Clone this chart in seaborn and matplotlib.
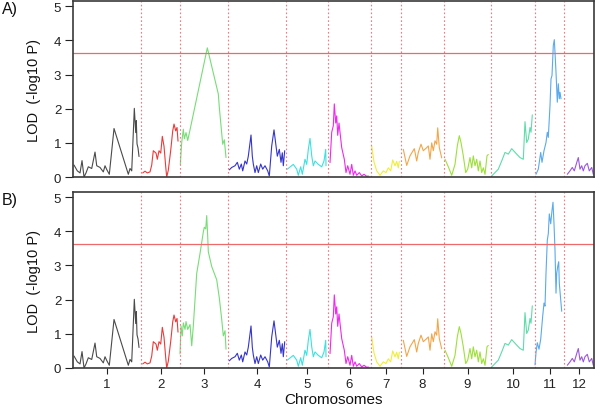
import numpy as np
import pandas as pd
import seaborn as sns
import matplotlib.pyplot as plt

# chromosome lengths (cM) and LOD profiles
chrom_names = ["1", "2", "3", "4", "5", "6", "7", "8", "9", "10", "11", "12"]
chrom_len = [68, 39, 48, 58, 42, 43, 30, 43, 47, 44, 29, 30]
chrom_colors = ["#4a4a4a", "#ec3a3a", "#77dd77", "#3535cc", "#3ee0e0", "#ee2aee",
                "#f0ee3a", "#f2a648", "#9ee03a", "#5edcaa", "#5aaaee", "#9a58dd"]
threshold = 3.64

chr1_pos = [1, 4.3, 7, 9, 11, 13, 15.3, 18.7, 22, 23.7, 27, 30.3, 32, 33.7, 36.3, 41,
            55.3, 57, 58.7, 61.3, 62.7, 63.3, 64, 65, 66]
chr1_lod = [0.35, 0.18, 0.12, 0.48, 0.0, 0.12, 0.3, 0.25, 0.73, 0.33, 0.28, 0.15, 0.33,
            0.22, 0.08, 1.42, 0.08, 0.25, 0.18, 2.01, 1.3, 1.65, 0.97, 0.85, 0.6]

chr2_pos = [1.7, 4, 6.3, 9, 10.7, 12.3, 15, 16.3, 18, 19.7, 21.3, 23, 24.7, 25.7, 27.3,
            29.7, 31.7, 33, 34.7, 36, 37]
chr2_lod = [0.12, 0.17, 0.12, 0.15, 0.35, 0.77, 0.7, 0.52, 0.77, 0.7, 1.19, 0.9, 0.3,
            0.0, 0.2, 0.78, 1.35, 1.55, 1.35, 1.45, 1.05]

chr3_pos = [0.3, 1.7, 3.3, 4.3, 6, 7.7, 10, 27.3, 28.3, 38.3, 39.3, 42.7, 44.3, 46]
chr3_lod = [0.37, 1.01, 1.4, 1.12, 1.3, 1.07, 1.38, 3.78, 3.66, 2.43, 2.04, 0.96, 1.09, 0.57]
chr3_pos_b = [0, 1, 2.3, 3.3, 5, 6, 7.7, 10, 11.7, 13.3, 16.7, 20, 23.3, 24.3, 25.7,
              26.7, 27.7, 28.3, 31.7, 36.7, 39.3, 41.7, 43.3, 45, 46]
chr3_lod_b = [0.41, 1.23, 0.94, 1.32, 1.13, 1.36, 1.13, 1.27, 0.65, 1.23, 2.77, 3.35,
              3.98, 4.12, 4.07, 4.46, 3.84, 3.4, 2.97, 2.58, 2.05, 1.42, 0.94, 1.09, 0.55]

chr4_pos = [1.3, 3.7, 7, 9.3, 11.3, 13.3, 14.7, 17, 18.7, 20.3, 23, 24.3, 25.3, 27, 28.7,
            30.3, 32.7, 34.7, 37, 39.7, 41.3, 43.7, 46, 48, 49.3, 51.3, 53, 54.3, 55.3, 56.7]
chr4_lod = [0.21, 0.28, 0.33, 0.43, 0.23, 0.38, 0.18, 0.47, 0.38, 0.61, 1.23, 0.61, 0.38,
            0.13, 0.33, 0.13, 0.38, 0.23, 0.33, 0.18, 0.03, 0.91, 1.38, 0.91, 0.61, 0.81,
            0.43, 0.71, 0.33, 0.77]

chr5_pos = [1.3, 7.3, 10.7, 12.3, 14.7, 16.3, 19, 20.7, 22.3, 24, 25.7, 27.3, 29, 32.3,
            35.7, 38, 39.7, 40]
chr5_lod = [0.23, 0.37, 0.23, 0.05, 0.3, 0.08, 0.52, 0.37, 0.81, 1.13, 0.62, 0.33, 0.47,
            0.37, 0.3, 0.47, 0.81, 0.33]

chr6_pos = [2, 3.7, 5.3, 6.3, 7.7, 8.7, 9.7, 11, 12, 13.7, 16.3, 18, 19.7, 22, 23.7,
            25.3, 27, 28.7, 31.3, 33.7, 36, 38.7, 40.3]
chr6_lod = [0.42, 1.31, 1.5, 2.14, 1.58, 1.79, 1.22, 1.58, 1.31, 0.86, 0.52, 0.13, 0.33,
            0.08, 0.37, 0.05, 0.18, 0.05, 0.13, 0.03, 0.08, 0.02, 0.03]

chr7_pos = [0.7, 3, 5.7, 9, 12.3, 15, 17.3, 19.7, 21.7, 24, 25.7, 27.3, 28.3]
chr7_lod = [0.91, 0.44, 0.18, 0.05, 0.18, 0.13, 0.27, 0.18, 0.5, 0.33, 0.46, 0.27, 0.46]

chr8_pos = [2.3, 5.7, 9, 13.3, 15.7, 17.3, 20, 22.3, 25.7, 27.3, 29, 30.7, 32.3, 34,
            35.7, 36.7, 38.3, 40.7]
chr8_lod = [0.81, 0.34, 0.62, 0.83, 0.47, 0.72, 0.96, 0.77, 0.86, 0.91, 0.52, 1.0, 0.77,
            1.06, 0.96, 1.44, 0.86, 0.56]

chr9_pos = [1, 4.3, 7.7, 11, 13.3, 15.3, 17, 19.3, 21.7, 23.7, 26, 27.7, 29.3, 31, 32.7,
            34.3, 36, 37.7, 39.3, 41, 43, 44.3]
chr9_lod = [0.52, 0.3, 0.05, 0.37, 0.91, 1.21, 1.01, 0.62, 0.13, 0.23, 0.57, 0.27, 0.62,
            0.33, 0.52, 0.18, 0.47, 0.13, 0.27, 0.08, 0.62, 0.66]

chr10_pos = [0.7, 4, 7.3, 10.7, 14, 17.3, 20.7, 25.7, 29, 32.3, 34, 35.7, 37.3, 39, 40, 41.3]
chr10_lod = [0.03, 0.13, 0.23, 0.47, 0.72, 0.67, 0.83, 0.67, 0.57, 0.52, 1.62, 1.01, 1.11,
             1.45, 1.31, 1.82]

chr11_pos = [1, 3.3, 5.7, 7, 9, 11, 12.3, 13.3, 15, 16, 17, 18.3, 19.3, 20, 21, 22.3,
             23.3, 24.3, 25, 26]
chr11_lod = [0.08, 0.23, 0.72, 0.43, 0.77, 1.01, 1.31, 1.16, 2.09, 2.87, 2.97, 3.85, 4.02,
             3.65, 3.07, 2.19, 2.73, 2.29, 2.48, 2.29]
chr11_pos_b = [0, 1, 2.3, 4, 5.7, 7.7, 9, 10, 11, 12.3, 13.3, 14.3, 15.7, 17, 18, 19, 20,
               21, 21.7, 22.7, 23.7, 24.3, 25.7, 26.7]
chr11_lod_b = [0.09, 0.45, 0.74, 0.55, 0.84, 1.52, 1.9, 1.81, 2.77, 3.74, 3.93, 4.51, 4.22,
               4.61, 4.85, 4.22, 3.45, 2.19, 2.77, 2.97, 3.11, 2.48, 2.0, 1.66]

chr12_pos = [3.3, 6, 8.3, 10.3, 12.7, 14.3, 16, 17.7, 19.3, 21, 23.3, 25.3, 27.7, 29.3]
chr12_lod = [0.08, 0.18, 0.28, 0.18, 0.42, 0.57, 0.23, 0.33, 0.18, 0.33, 0.4, 0.18, 0.28, 0.08]

pos_a = [chr1_pos, chr2_pos, chr3_pos, chr4_pos, chr5_pos, chr6_pos,
         chr7_pos, chr8_pos, chr9_pos, chr10_pos, chr11_pos, chr12_pos]
lod_a = [chr1_lod, chr2_lod, chr3_lod, chr4_lod, chr5_lod, chr6_lod,
         chr7_lod, chr8_lod, chr9_lod, chr10_lod, chr11_lod, chr12_lod]
pos_b = list(pos_a)
lod_b = list(lod_a)
pos_b[2], lod_b[2] = chr3_pos_b, chr3_lod_b
pos_b[10], lod_b[10] = chr11_pos_b, chr11_lod_b

starts = np.concatenate([[0], np.cumsum(chrom_len)[:-1]])
total = sum(chrom_len)
mids = starts + np.array(chrom_len) / 2


def build_frame(pos_list, lod_list):
    rows = []
    for name, st, p, l in zip(chrom_names, starts, pos_list, lod_list):
        for x, y in zip(p, l):
            rows.append({"chrom": name, "pos": st + x, "lod": y})
    return pd.DataFrame(rows)


sns.set_theme(style="white")
plt.rcParams["font.family"] = ["Liberation Sans", "DejaVu Sans"]

fig = plt.figure(figsize=(6, 4.14), dpi=100)
ax_a = fig.add_axes([0.1217, 0.570, 0.8683, 0.425])
ax_b = fig.add_axes([0.1217, 0.1087, 0.8683, 0.4251])

for ax, pl, ll, tag, ty in [(ax_a, pos_a, lod_a, "A)", 0.977), (ax_b, pos_b, lod_b, "B)", 0.5145)]:
    df = build_frame(pl, ll)
    sns.lineplot(data=df, x="pos", y="lod", hue="chrom", palette=chrom_colors,
                 hue_order=chrom_names, estimator=None, sort=False, legend=False,
                 linewidth=0.8, ax=ax)
    for b in starts[1:]:
        ax.axvline(b, color="#f07a86", linestyle=(0, (1.5, 2)), linewidth=0.8)
    ax.axhline(threshold, color="#ee6a6a", linewidth=0.9)
    ax.set_xlim(0, total)
    ax.set_ylim(0, 5.15)
    ax.set_yticks([0, 1, 2, 3, 4, 5])
    ax.set_ylabel("LOD  (-log10 P)", fontsize=10.5, labelpad=9, color="#111111")
    ax.set_xlabel("")
    ax.tick_params(axis="y", left=True, length=5.5, width=0.8, pad=3,
                   labelsize=9.5, colors="#222222")
    for s in ax.spines.values():
        s.set_color("#3a3a3a")
        s.set_linewidth(1.2)
    fig.text(0.003, ty, tag, fontsize=11.5, va="center", ha="left", color="#111111")

ax_a.set_xticks([])
ax_b.set_xticks(mids)
ax_b.set_xticklabels(chrom_names)
ax_b.tick_params(axis="x", bottom=True, length=4, width=0.8, pad=3,
                 labelsize=9.5, colors="#222222")
ax_b.set_xlabel("Chromosomes", fontsize=11, labelpad=2, color="#111111")

fig.savefig("out.png", dpi=100)
